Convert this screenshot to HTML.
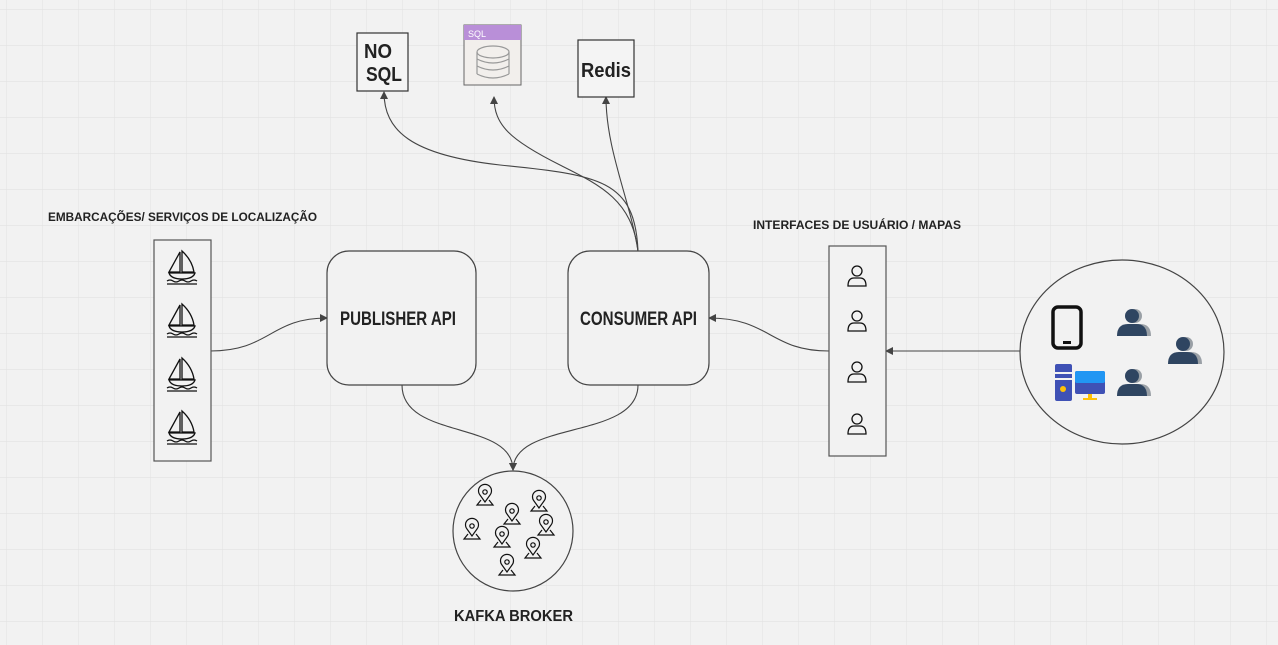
<!DOCTYPE html>
<html><head><meta charset="utf-8"><style>
html,body{margin:0;padding:0;background:#f2f2f2;}
svg{display:block;}
text{font-family:"Liberation Sans",sans-serif;}
</style></head><body>
<svg width="1278" height="645" viewBox="0 0 1278 645" xmlns="http://www.w3.org/2000/svg">
<defs>
<pattern id="g" x="6" y="9" width="36" height="36" patternUnits="userSpaceOnUse">
<path d="M0 0H36M0 0V36" stroke="#e3e3e3" stroke-width="1.2" fill="none"/>
</pattern>
<marker id="a" markerWidth="8" markerHeight="8" refX="7" refY="4" orient="auto" markerUnits="userSpaceOnUse">
<path d="M0 0L8 4L0 8z" fill="#444"/>
</marker>
<g id="boat" fill="none" stroke="#111" stroke-width="1.3">
<path d="M-2 -14 L-2 6 L-13 6 Z"/>
<path d="M0 -15 L0 6 L12 6 Q10 -6 0 -15Z"/>
<path d="M-13 7 L13 7 Q11 13 0 13 Q-11 13 -13 7Z"/>
<path d="M-15 15 q3 -2 6 0 t6 0 t6 0 t6 0 t6 0"/>
<path d="M-15 18 H15"/>
</g>
<g id="user" fill="none" stroke="#111" stroke-width="1.3">
<circle cx="0" cy="-5" r="5"/>
<path d="M-9 10 Q-9 2 -3 2 H3 Q9 2 9 10 Z"/>
</g>
<g id="pin" fill="none" stroke="#111" stroke-width="1.2">
<path d="M0 6 L-5 -1 A6.5 6.5 0 1 1 5 -1 Z"/>
<circle cx="0" cy="-4" r="2.2"/>
<path d="M-4 4 L-8 9 H8 L4 4"/>
</g>
<g id="person">
<circle cx="3" cy="-7" r="7" fill="#9aa0a6"/>
<path d="M-13 13 Q-13 1 -2 1 H8 Q19 1 19 13Z" fill="#9aa0a6"/>
<circle cx="0" cy="-7" r="7" fill="#2f4561"/>
<path d="M-15 13 Q-15 1 -4 1 H4 Q15 1 15 13Z" fill="#2f4561"/>
</g>
</defs>
<rect width="1278" height="645" fill="#f2f2f2"/>
<rect width="1278" height="645" fill="url(#g)"/>

<g fill="none" stroke="#444" stroke-width="1.1">
<path d="M210 351 C270 351 270 318 327 318" marker-end="url(#a)"/>
<path d="M829 351 C770 351 770 318 709 318" marker-end="url(#a)"/>
<path d="M1020 351 H886" marker-end="url(#a)"/>
<path d="M402 385 C402 440 513 420 513 470" marker-end="url(#a)"/>
<path d="M638 385 C638 440 513 420 513 470" marker-end="url(#a)"/>
<path d="M638 251 C635 180 600 175 500 165 C410 155 384 130 384 92" marker-end="url(#a)"/>
<path d="M638 251 C632 200 600 185 560 165 C510 140 494 125 494 97" marker-end="url(#a)"/>
<path d="M638 251 C630 200 606 150 606 97" marker-end="url(#a)"/>
</g>

<rect x="357" y="33" width="51" height="58" fill="#f4f4f4" stroke="#333" stroke-width="1.2"/>
<text x="364" y="58" font-size="20" font-weight="bold" fill="#222" textLength="28" lengthAdjust="spacingAndGlyphs">NO</text>
<text x="366" y="81" font-size="20" font-weight="bold" fill="#222" textLength="36" lengthAdjust="spacingAndGlyphs">SQL</text>
<rect x="464" y="25" width="57" height="60" fill="#f2efec" stroke="#666" stroke-width="1"/>
<rect x="464" y="25" width="57" height="15" fill="#b98fd8"/>
<text x="468" y="37" font-size="9" fill="#fff">SQL</text>
<g fill="none" stroke="#999" stroke-width="1.2">
<ellipse cx="493" cy="52" rx="16" ry="6"/>
<path d="M477 52V74M509 52V74"/>
<path d="M477 59Q493 67 509 59M477 66Q493 74 509 66M477 74Q493 82 509 74"/>
</g>
<rect x="578" y="40" width="56" height="57" fill="#f4f4f4" stroke="#333" stroke-width="1.2"/>
<text x="581" y="77" font-size="20" font-weight="bold" fill="#222" textLength="50" lengthAdjust="spacingAndGlyphs">Redis</text>

<text x="48" y="221" font-size="11.5" font-weight="bold" fill="#222" textLength="269" lengthAdjust="spacingAndGlyphs">EMBARCAÇÕES/ SERVIÇOS DE LOCALIZAÇÃO</text>
<rect x="154" y="240" width="57" height="221" fill="#f2f2f2" stroke="#555" stroke-width="1.2"/>
<use href="#boat" x="182" y="266"/>
<use href="#boat" x="182" y="319"/>
<use href="#boat" x="182" y="373"/>
<use href="#boat" x="182" y="426"/>

<rect x="327" y="251" width="149" height="134" rx="22" fill="#f2f2f2" stroke="#444" stroke-width="1.2"/>
<text x="340" y="325" font-size="19" font-weight="bold" fill="#222" textLength="116" lengthAdjust="spacingAndGlyphs">PUBLISHER API</text>
<rect x="568" y="251" width="141" height="134" rx="22" fill="#f2f2f2" stroke="#444" stroke-width="1.2"/>
<text x="580" y="325" font-size="19" font-weight="bold" fill="#222" textLength="117" lengthAdjust="spacingAndGlyphs">CONSUMER API</text>

<circle cx="513" cy="531" r="60" fill="#f2f2f2" stroke="#444" stroke-width="1.2"/>
<use href="#pin" x="485" y="496"/>
<use href="#pin" x="539" y="502"/>
<use href="#pin" x="512" y="515"/>
<use href="#pin" x="472" y="530"/>
<use href="#pin" x="546" y="526"/>
<use href="#pin" x="502" y="538"/>
<use href="#pin" x="533" y="549"/>
<use href="#pin" x="507" y="566"/>
<text x="454" y="621" font-size="15.5" font-weight="bold" fill="#222" textLength="119" lengthAdjust="spacingAndGlyphs">KAFKA BROKER</text>

<text x="753" y="229" font-size="11.5" font-weight="bold" fill="#222" textLength="208" lengthAdjust="spacingAndGlyphs">INTERFACES DE USUÁRIO / MAPAS</text>
<rect x="829" y="246" width="57" height="210" fill="#f2f2f2" stroke="#555" stroke-width="1.2"/>
<use href="#user" x="857" y="276"/>
<use href="#user" x="857" y="321"/>
<use href="#user" x="857" y="372"/>
<use href="#user" x="857" y="424"/>

<ellipse cx="1122" cy="352" rx="102" ry="92" fill="#f2f2f2" stroke="#444" stroke-width="1.2"/>
<rect x="1053" y="307" width="28" height="41" rx="5" fill="none" stroke="#111" stroke-width="3.5"/>
<rect x="1063" y="341" width="8" height="3" fill="#111"/>
<rect x="1055" y="364" width="17" height="37" rx="2" fill="#3f51b5"/>
<rect x="1055" y="372" width="17" height="2" fill="#f2f2f2"/>
<rect x="1055" y="378" width="17" height="2" fill="#f2f2f2"/>
<circle cx="1063" cy="389" r="3" fill="#ffc107"/>
<rect x="1075" y="371" width="30" height="23" rx="2" fill="#3f51b5"/>
<rect x="1075" y="371" width="30" height="12" rx="2" fill="#2196f3"/>
<rect x="1088" y="394" width="4" height="5" fill="#ffc107"/>
<rect x="1083" y="398" width="14" height="2" fill="#ffc107"/>
<use href="#person" x="1132" y="323"/>
<use href="#person" x="1183" y="351"/>
<use href="#person" x="1132" y="383"/>
</svg>
</body></html>
